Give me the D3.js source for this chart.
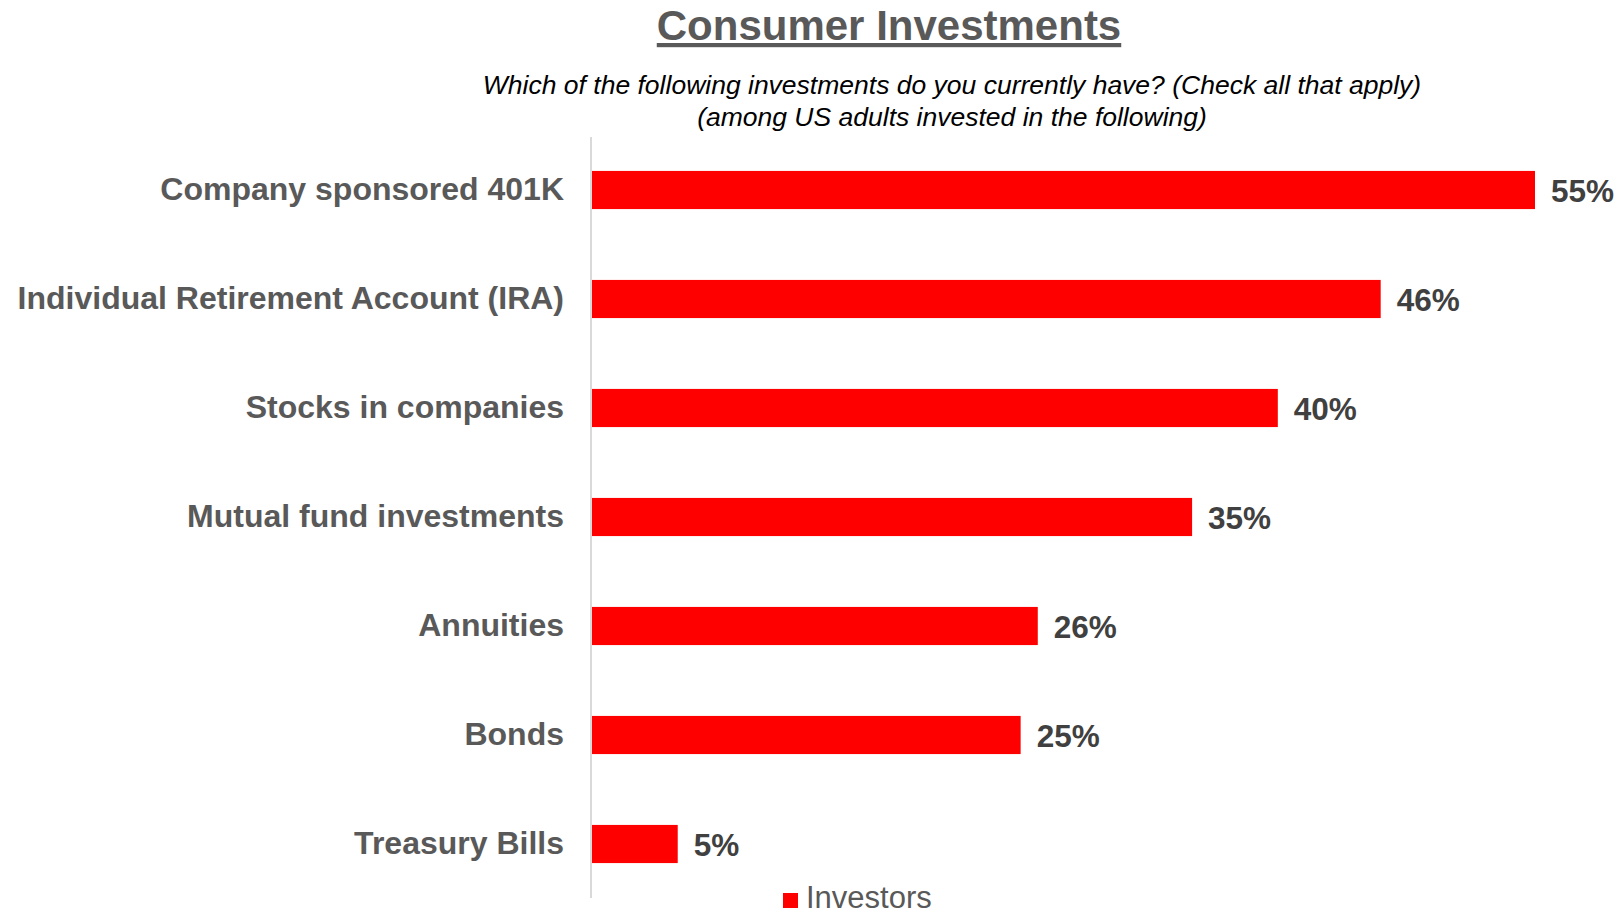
<!DOCTYPE html>
<html>
<head>
<meta charset="utf-8">
<script src="https://cdn.jsdelivr.net/npm/d3@7"></script>
<style>
  html, body { margin: 0; padding: 0; background: #fff; }
  svg { display: block; font-family: "Liberation Sans", Arial, sans-serif; }
</style>
</head>
<body>
<svg id="chart" width="1622" height="914"></svg>
<script>
// Survey results: share of US investors holding each investment type
const categories = [
  "Company sponsored 401K",
  "Individual Retirement Account (IRA)",
  "Stocks in companies",
  "Mutual fund investments",
  "Annuities",
  "Bonds",
  "Treasury Bills"
];
const investors = [55, 46, 40, 35, 26, 25, 5];
const seriesName = "Investors";
const titleText = "Consumer Investments";
const subtitleLines = [
  "Which of the following investments do you currently have? (Check all that apply)",
  "(among US adults invested in the following)"
];

const svg = d3.select("#chart");

const plotLeft = 592, plotRight = 1535;
const x = d3.scaleLinear().domain([0, 55]).range([plotLeft, plotRight]);
const y = d3.scaleBand()
  .domain(categories)
  .range([135.5, 898.5])
  .paddingInner(0.65)
  .paddingOuter(0.325);

// Title (underlined) and question text
svg.append("text")
  .attr("x", 889).attr("y", 40)
  .attr("text-anchor", "middle")
  .attr("font-size", 42).attr("font-weight", "bold")
  .attr("fill", "#595959")
  .attr("text-decoration", "underline")
  .text(titleText);

svg.selectAll("text.sub")
  .data(subtitleLines)
  .join("text")
  .attr("class", "sub")
  .attr("x", 952)
  .attr("y", (d, i) => 94 + i * 32)
  .attr("text-anchor", "middle")
  .attr("font-size", 26.5).attr("font-style", "italic")
  .attr("fill", "#000")
  .text(d => d);

// Category axis line
svg.append("line")
  .attr("x1", plotLeft - 1).attr("x2", plotLeft - 1)
  .attr("y1", 137).attr("y2", 898)
  .attr("stroke", "#d9d9d9").attr("stroke-width", 2);

const rows = categories.map((c, i) => ({ cat: c, val: investors[i] }));

// Bars
svg.selectAll("rect.bar")
  .data(rows)
  .join("rect")
  .attr("class", "bar")
  .attr("x", x(0))
  .attr("y", d => y(d.cat))
  .attr("width", d => x(d.val) - x(0))
  .attr("height", y.bandwidth())
  .attr("fill", "#ff0000");

// Category labels
svg.selectAll("text.cat")
  .data(rows)
  .join("text")
  .attr("class", "cat")
  .attr("x", 564)
  .attr("y", d => y(d.cat) + y.bandwidth() / 2 + 10)
  .attr("text-anchor", "end")
  .attr("font-size", 32).attr("font-weight", "bold")
  .attr("fill", "#595959")
  .text(d => d.cat);

// Value labels
svg.selectAll("text.val")
  .data(rows)
  .join("text")
  .attr("class", "val")
  .attr("x", d => x(d.val) + 16)
  .attr("y", d => y(d.cat) + y.bandwidth() / 2 + 12)
  .attr("font-size", 31.5).attr("font-weight", "bold")
  .attr("fill", "#404040")
  .text(d => d.val + "%");

// Legend
const legend = svg.append("g").attr("transform", "translate(783,893)");
legend.append("rect")
  .attr("x", 0).attr("y", 0)
  .attr("width", 15).attr("height", 15)
  .attr("fill", "#ff0000");
legend.append("text")
  .attr("x", 23).attr("y", 15)
  .attr("font-size", 31)
  .attr("fill", "#595959")
  .text(seriesName);
</script>
</body>
</html>
